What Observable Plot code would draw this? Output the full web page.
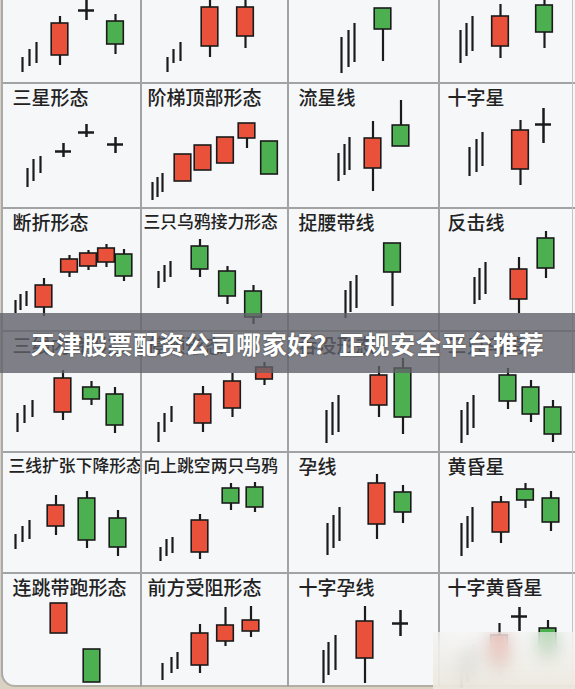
<!DOCTYPE html>
<html><head><meta charset="utf-8">
<script src="https://cdn.jsdelivr.net/npm/d3@7"></script>
<script src="https://cdn.jsdelivr.net/npm/@observablehq/plot@0.6"></script>
<style>
html,body{margin:0;padding:0;background:#d9d2c3;}
#card{position:relative;width:575px;height:689px;overflow:hidden;background:#d9d2c3;}
#paper{position:absolute;left:1px;top:-20px;width:640px;height:705px;background:#f5f7f9;border-left:2px solid #a9a9a9;border-bottom:2px solid #b4afa4;border-bottom-left-radius:14px;}
.panel{position:absolute;}
.panel svg{overflow:visible;display:block;}
.gl{position:absolute;background:#a3a3a3;}
#banner{position:absolute;left:0;top:313px;width:575px;height:60px;background:rgba(98,98,106,0.8);display:flex;align-items:center;justify-content:center;}
#banner span{font-family:"Noto Sans CJK SC",sans-serif;font-weight:700;font-size:25px;color:#fff;letter-spacing:0.7px;text-shadow:0 0 2px rgba(0,0,0,0.55);}
#blur{position:absolute;left:433px;top:632px;width:142px;height:57px;backdrop-filter:blur(9px);-webkit-backdrop-filter:blur(9px);background:linear-gradient(to bottom,rgba(246,246,244,0.62),rgba(236,232,222,0.88));}
</style></head><body>
<div id="card"><div id="paper"></div></div>
<script>
// ---- data: pattern names per panel (row-col) ----
const patternNames = [
  {panel:"1-0", name:"三星形态"}, {panel:"1-1", name:"阶梯顶部形态"}, {panel:"1-2", name:"流星线"}, {panel:"1-3", name:"十字星"},
  {panel:"2-0", name:"断折形态"}, {panel:"2-1", name:"三只乌鸦接力形态"}, {panel:"2-2", name:"捉腰带线"}, {panel:"2-3", name:"反击线"},
  {panel:"3-0", name:"三线内降形态"}, {panel:"3-1", name:"停顿形态"}, {panel:"3-2", name:"吞没形态"}, {panel:"3-3", name:"三只乌鸦"},
  {panel:"4-0", name:"三线扩张下降形态"}, {panel:"4-1", name:"向上跳空两只乌鸦"}, {panel:"4-2", name:"孕线"}, {panel:"4-3", name:"黄昏星"},
  {panel:"5-0", name:"连跳带跑形态"}, {panel:"5-1", name:"前方受阻形态"}, {panel:"5-2", name:"十字孕线"}, {panel:"5-3", name:"十字黄昏星"}
];

// ---- data: prior-trend thin bars (t = time, lo/hi = price) ----
const trendBars = [
  {panel:"0-0",t:19,lo:11,hi:26},{panel:"0-0",t:26,lo:17,hi:34},{panel:"0-0",t:33,lo:20,hi:41},
  {panel:"0-1",t:26,lo:11,hi:26},{panel:"0-1",t:32,lo:20,hi:34},{panel:"0-1",t:39,lo:22,hi:41},
  {panel:"0-2",t:53,lo:10,hi:46},{panel:"0-2",t:60,lo:16,hi:53},{panel:"0-2",t:66,lo:21,hi:60},
  {panel:"0-3",t:21,lo:20,hi:53},{panel:"0-3",t:27,lo:27,hi:60},{panel:"0-3",t:33,lo:32,hi:67},
  {panel:"1-0",t:24,lo:21,hi:40},{panel:"1-0",t:30,lo:27,hi:49},{panel:"1-0",t:37,lo:35,hi:52},
  {panel:"1-1",t:11,lo:8,hi:26},{panel:"1-1",t:16,lo:11,hi:31},{panel:"1-1",t:21,lo:16,hi:35},
  {panel:"1-2",t:50,lo:27,hi:55},{panel:"1-2",t:56,lo:33,hi:64},{panel:"1-2",t:61,lo:38,hi:71},
  {panel:"1-3",t:30,lo:32,hi:61},{panel:"1-3",t:37,lo:36,hi:69},{panel:"1-3",t:43,lo:42,hi:76},
  {panel:"2-0",t:12,lo:18,hi:31},{panel:"2-0",t:17,lo:21,hi:37},{panel:"2-0",t:23,lo:25,hi:40},
  {panel:"2-1",t:17,lo:43,hi:60},{panel:"2-1",t:23,lo:49,hi:66},{panel:"2-1",t:29,lo:54,hi:70},
  {panel:"2-2",t:57,lo:13,hi:41},{panel:"2-2",t:62,lo:19,hi:50},{panel:"2-2",t:68,lo:23,hi:56},
  {panel:"2-3",t:35,lo:27,hi:54},{panel:"2-3",t:40,lo:31,hi:63},{panel:"2-3",t:46,lo:37,hi:69},
  {panel:"3-0",t:14,lo:20,hi:39},{panel:"3-0",t:21,lo:29,hi:47},{panel:"3-0",t:29,lo:35,hi:52},
  {panel:"3-1",t:17,lo:10,hi:30},{panel:"3-1",t:23,lo:20,hi:39},{panel:"3-1",t:30,lo:30,hi:46},
  {panel:"3-2",t:38,lo:9,hi:42},{panel:"3-2",t:44,lo:17,hi:50},{panel:"3-2",t:50,lo:20,hi:57},
  {panel:"3-3",t:22,lo:9,hi:42},{panel:"3-3",t:28,lo:17,hi:50},{panel:"3-3",t:34,lo:24,hi:57},
  {panel:"4-0",t:12,lo:24,hi:39},{panel:"4-0",t:19,lo:31,hi:47},{panel:"4-0",t:26,lo:34,hi:53},
  {panel:"4-1",t:19,lo:12,hi:26},{panel:"4-1",t:25,lo:17,hi:34},{panel:"4-1",t:31,lo:20,hi:36},
  {panel:"4-2",t:39,lo:18,hi:50},{panel:"4-2",t:45,lo:25,hi:58},{panel:"4-2",t:51,lo:32,hi:66},
  {panel:"4-3",t:22,lo:17,hi:50},{panel:"4-3",t:28,lo:25,hi:57},{panel:"4-3",t:33,lo:31,hi:66},
  {panel:"5-1",t:21,lo:16,hi:33},{panel:"5-1",t:30,lo:23,hi:39},{panel:"5-1",t:36,lo:27,hi:44},
  {panel:"5-2",t:35,lo:13,hi:46},{panel:"5-2",t:40,lo:21,hi:54},{panel:"5-2",t:47,lo:26,hi:61},
  {panel:"5-3",t:22,lo:8,hi:38},{panel:"5-3",t:28,lo:14,hi:45},{panel:"5-3",t:34,lo:20,hi:52}
];

// ---- data: candlesticks (o = open, c = close, h = high, l = low) ----
const candles = [
  {panel:"0-0",t:56.5,o:28,c:60,h:67,l:18},{panel:"0-0",t:112,o:62,c:39,h:69,l:29},
  {panel:"0-1",t:68.5,o:37,c:76,h:84,l:26},{panel:"0-1",t:104,o:47,c:76,h:84,l:35},
  {panel:"0-2",t:94.5,o:75,c:54,h:75,l:22},
  {panel:"0-3",t:61,o:37,c:67,h:79,l:25},{panel:"0-3",t:105,o:78,c:51,h:85,l:35},
  {panel:"1-1",t:41.5,o:27,c:54,h:54,l:27},{panel:"1-1",t:61.5,o:38,c:63,h:63,l:38},{panel:"1-1",t:84,o:45,c:71,h:71,l:45},{panel:"1-1",t:105.5,o:70,c:85,h:85,l:60},{panel:"1-1",t:128,o:67,c:34,h:67,l:34},
  {panel:"1-2",t:84.5,o:40,c:70,h:87,l:17},{panel:"1-2",t:112.5,o:83,c:62,h:108,l:62},
  {panel:"1-3",t:81,o:39,c:78,h:88,l:23},
  {panel:"2-0",t:40.5,o:24,c:46,h:53,l:15},{panel:"2-0",t:66,o:59,c:72,h:76,l:54},{panel:"2-0",t:85,o:65,c:78,h:81,l:61},{panel:"2-0",t:103,o:69,c:83,h:87,l:64},{panel:"2-0",t:120.5,o:77,c:55,h:82,l:50},
  {panel:"2-1",t:58.5,o:85,c:62,h:92,l:54},{panel:"2-1",t:86,o:60,c:35,h:65,l:27},{panel:"2-1",t:112,o:40,c:14,h:46,l:7},
  {panel:"2-2",t:104,o:88,c:59,h:88,l:25},
  {panel:"2-3",t:79.5,o:32,c:62,h:74,l:18},{panel:"2-3",t:106.5,o:93,c:63,h:100,l:53},
  {panel:"3-0",t:59.5,o:40,c:74,h:82,l:32},{panel:"3-0",t:88,o:65,c:53,h:71,l:47},{panel:"3-0",t:111.5,o:58,c:27,h:65,l:19},
  {panel:"3-1",t:61.5,o:29,c:58,h:66,l:20},{panel:"3-1",t:91,o:44,c:71,h:79,l:35},{panel:"3-1",t:123,o:73,c:85,h:90,l:67},
  {panel:"3-2",t:90.5,o:47,c:77,h:86,l:35},{panel:"3-2",t:114.5,o:84,c:35,h:94,l:18},
  {panel:"3-3",t:68.5,o:77,c:51,h:84,l:43},{panel:"3-3",t:91.5,o:65,c:38,h:72,l:30},{panel:"3-3",t:113.5,o:45,c:18,h:52,l:10},
  {panel:"4-0",t:52.5,o:47,c:68,h:78,l:38},{panel:"4-0",t:83.5,o:75,c:33,h:82,l:25},{panel:"4-0",t:114.5,o:55,c:26,h:63,l:17},
  {panel:"4-1",t:58.5,o:21,c:53,h:59,l:14},{panel:"4-1",t:89.5,o:85,c:70,h:90,l:63},{panel:"4-1",t:113.5,o:86,c:66,h:91,l:61},
  {panel:"4-2",t:88.5,o:49,c:90,h:99,l:34},{panel:"4-2",t:114.5,o:81,c:61,h:88,l:50},
  {panel:"4-3",t:61.5,o:41,c:71,h:77,l:30},{panel:"4-3",t:86,o:84,c:73,h:90,l:65},{panel:"4-3",t:111.5,o:75,c:51,h:82,l:42},
  {panel:"5-0",t:55.5,o:63,c:93,h:93,l:63},{panel:"5-0",t:88.5,o:47,c:14,h:47,l:14},
  {panel:"5-1",t:58.5,o:31,c:63,h:72,l:23},{panel:"5-1",t:84,o:55,c:71,h:89,l:50},{panel:"5-1",t:109.5,o:65,c:76,h:90,l:59},
  {panel:"5-2",t:76.5,o:38,c:75,h:90,l:13},
  {panel:"5-3",t:60,o:30,c:61,h:73,l:20},{panel:"5-3",t:108.5,o:68,c:41,h:76,l:33}
];

// ---- data: doji crosses (p = open = close) ----
const dojis = [
  {panel:"0-0",t:83,p:73,h:88,l:63},
  {panel:"1-0",t:60,p:57,h:65,l:51},{panel:"1-0",t:83,p:76,h:84,l:71},{panel:"1-0",t:112,p:64,h:71,l:55},
  {panel:"1-3",t:104,p:84,h:100,l:65},
  {panel:"5-2",t:112,p:73,h:86,l:60},
  {panel:"5-3",t:80,p:80,h:89,l:65}
];

const bannerText = "天津股票配资公司哪家好？正规安全平台推荐";

// ---- layout (not data) ----
const rowTops = [-40, 83, 208, 331, 452, 573];
const rowHeights = [123, 125, 123, 121, 121, 123];
const colLefts = [3, 141, 288, 439];
const colWidths = [138, 147, 151, 134];
const labelDx = [9, 6, 10, 8];
const RED = "#e9513b", GREEN = "#4caf50", INK = "#1b1b1b";
const HALF = 8.3, CROSS = 8;
const FONT = '"Noto Sans CJK SC", "Noto Sans", sans-serif';

const card = document.getElementById("card");

function panelPlot(id, w, h) {
  const tb = trendBars.filter(d => d.panel === id);
  const cs = candles.filter(d => d.panel === id);
  const dj = dojis.filter(d => d.panel === id);
  const nm = patternNames.filter(d => d.panel === id);
  return Plot.plot({
    width: w, height: h, margin: 0,
    x: {domain: [0, w], axis: null},
    y: {domain: [0, h], axis: null},
    color: {type: "identity"},
    style: {background: "transparent", overflow: "visible", fontFamily: FONT},
    marks: [
      Plot.ruleX(tb, {x: "t", y1: "lo", y2: "hi", stroke: INK, strokeWidth: 2.2}),
      Plot.ruleX(cs, {x: "t", y1: "l", y2: "h", stroke: INK, strokeWidth: 2.2}),
      Plot.rect(cs, {x1: d => d.t - HALF, x2: d => d.t + HALF, y1: "o", y2: "c",
        fill: d => d.c > d.o ? RED : GREEN, stroke: INK, strokeWidth: 1.6}),
      Plot.ruleX(dj, {x: "t", y1: "l", y2: "h", stroke: INK, strokeWidth: 2.5}),
      Plot.ruleY(dj, {y: "p", x1: d => d.t - CROSS, x2: d => d.t + CROSS, stroke: INK, strokeWidth: 2.5}),
      Plot.text(nm, {frameAnchor: "top-left", text: "name", textAnchor: "start", lineAnchor: "top",
        fill: "#222", fontWeight: 500,
        fontSize: nm.length && nm[0].name.length >= 8 ? 16.8 : 19})
    ]
  });
}

for (let r = 0; r < rowTops.length; r++) {
  for (let c = 0; c < colLefts.length; c++) {
    const id = `${r}-${c}`;
    const div = document.createElement("div");
    div.className = "panel";
    div.style.left = colLefts[c] + "px";
    div.style.top = rowTops[r] + "px";
    div.style.width = colWidths[c] + "px";
    div.style.height = rowHeights[r] + "px";
    const nm = patternNames.find(d => d.panel === id);
    const dx = labelDx[c] - (nm && nm.name.length >= 8 ? 4 : 0);
    const svg = panelPlot(id, colWidths[c], rowHeights[r]);
    svg.querySelectorAll("text").forEach(t => t.setAttribute("transform", `translate(${dx},8)`));
    div.appendChild(svg);
    card.appendChild(div);
  }
}

// grid lines
const hLines = [83, 208, 331, 452, 573];
const vLines = [141, 288, 439];
hLines.forEach(y => { const d = document.createElement("div"); d.className = "gl";
  d.style.cssText += `left:3px;top:${y-1}px;width:572px;height:2px;`; card.appendChild(d); });
vLines.forEach(x => { const d = document.createElement("div"); d.className = "gl";
  d.style.cssText += `left:${x-1}px;top:0;width:2px;height:687px;`; card.appendChild(d); });
{ const d = document.createElement("div"); d.className = "gl";
  d.style.cssText += `left:572px;top:0;width:1px;height:687px;background:#c4c4c4;`; card.appendChild(d); }

const blur = document.createElement("div"); blur.id = "blur"; card.appendChild(blur);
const banner = document.createElement("div"); banner.id = "banner";
banner.innerHTML = `<span>${bannerText}</span>`; card.appendChild(banner);
</script></body></html>
